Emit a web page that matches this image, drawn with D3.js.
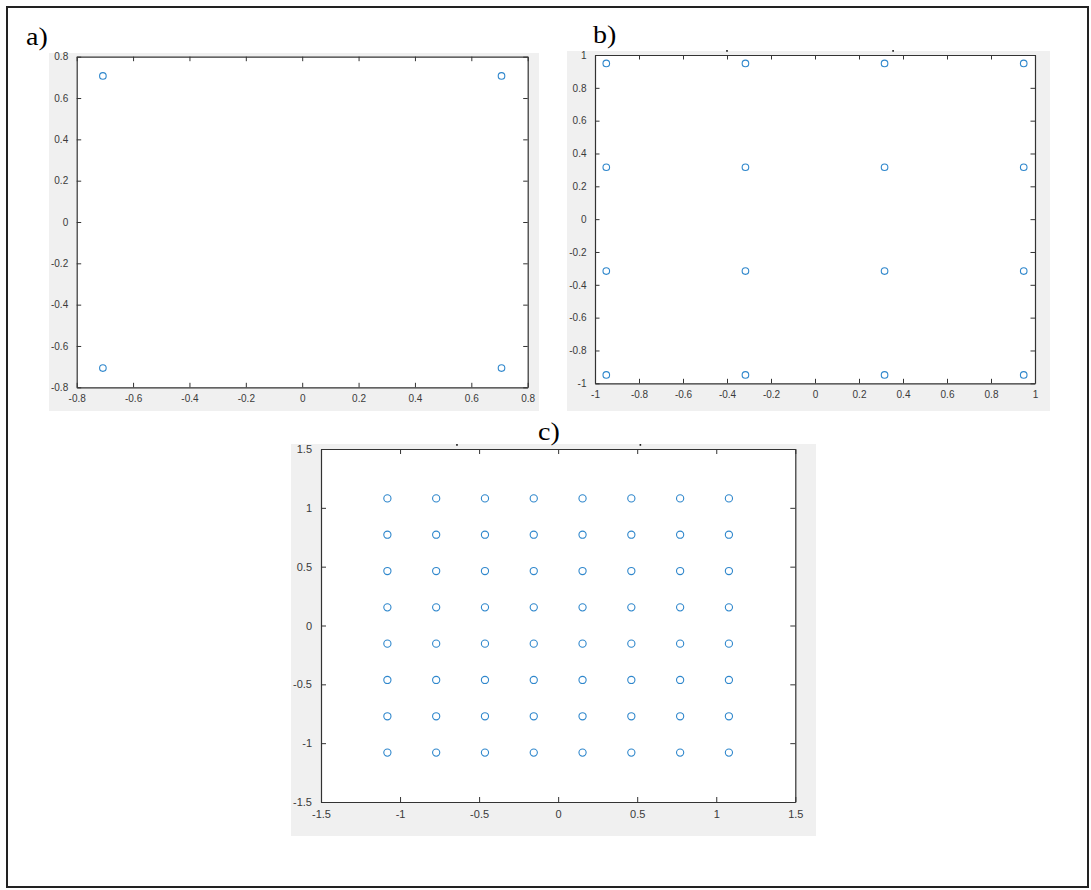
<!DOCTYPE html>
<html>
<head>
<meta charset="utf-8">
<script src="https://cdn.jsdelivr.net/npm/d3@7"></script>
<style>
  html, body { margin: 0; padding: 0; background: #fff; }
  svg { display: block; }
</style>
</head>
<body>
<svg id="fig" width="1091" height="890"></svg>
<script>
// Constellation points (normalized QAM levels)
const qpskLevels = [-0.7071, 0.7071];
const qam16Levels = [-0.9487, -0.3162, 0.3162, 0.9487];
const qam64Levels = [-1.0801, -0.7715, -0.4629, -0.1543, 0.1543, 0.4629, 0.7715, 1.0801];

// Axis limits and tick values per panel
const domainA = [-0.8, 0.8];
const ticksA = [-0.8, -0.6, -0.4, -0.2, 0, 0.2, 0.4, 0.6, 0.8];
const domainB = [-1, 1];
const ticksB = [-1, -0.8, -0.6, -0.4, -0.2, 0, 0.2, 0.4, 0.6, 0.8, 1];
const domainC = [-1.5, 1.5];
const ticksC = [-1.5, -1, -0.5, 0, 0.5, 1, 1.5];

const panelLabels = ["a)", "b)", "c)"];

const svg = d3.select("#fig");

// Outer frame
svg.append("rect")
  .attr("x", 7).attr("y", 7)
  .attr("width", 1081).attr("height", 880)
  .attr("fill", "none")
  .attr("stroke", "#222")
  .attr("stroke-width", 2);

const axisColor = "#333";
const markerColor = "#2f87cc";

function grid(levels) {
  const pts = [];
  levels.forEach(i => levels.forEach(q => pts.push([i, q])));
  return pts;
}

function fmt(v) {
  if (v === 0) return "0";
  return String(+v.toFixed(2));
}

function panel(cfg) {
  const g = svg.append("g");
  // figure background
  g.append("rect")
    .attr("x", cfg.bg[0]).attr("y", cfg.bg[1])
    .attr("width", cfg.bg[2] - cfg.bg[0]).attr("height", cfg.bg[3] - cfg.bg[1])
    .attr("fill", "#f0f0f0");
  const [x0, y0, x1, y1] = cfg.box;
  g.append("rect")
    .attr("x", x0).attr("y", y0)
    .attr("width", x1 - x0).attr("height", y1 - y0)
    .attr("fill", "#fff");

  const x = d3.scaleLinear().domain(cfg.domain).range([x0, x1]);
  const y = d3.scaleLinear().domain(cfg.domain).range([y1, y0]);
  const tl = cfg.tickLen;

  const fontSize = cfg.fontSize;
  const tf = d => fmt(d);

  // bottom and left axes carry labels; top and right mirror the ticks
  const bottom = g.append("g").attr("transform", `translate(0,${y1})`)
    .call(d3.axisBottom(x).tickValues(cfg.ticks).tickFormat(tf).tickSizeInner(-tl).tickSizeOuter(0).tickPadding(tl + 3));
  const left = g.append("g").attr("transform", `translate(${x0},0)`)
    .call(d3.axisLeft(y).tickValues(cfg.ticks).tickFormat(tf).tickSizeInner(-tl).tickSizeOuter(0).tickPadding(tl + 4));
  const top = g.append("g").attr("transform", `translate(0,${y0})`)
    .call(d3.axisTop(x).tickValues(cfg.ticks).tickFormat("").tickSizeInner(-tl).tickSizeOuter(0));
  const right = g.append("g").attr("transform", `translate(${x1},0)`)
    .call(d3.axisRight(y).tickValues(cfg.ticks).tickFormat("").tickSizeInner(-tl).tickSizeOuter(0));

  [bottom, left, top, right].forEach(a => {
    a.select(".domain").attr("stroke", axisColor).attr("stroke-width", 1.2);
    a.selectAll(".tick line").attr("stroke", axisColor).attr("stroke-width", 1);
    a.selectAll(".tick text")
      .attr("fill", "#3a3a3a")
      .attr("font-family", "'Liberation Sans', Arial, sans-serif")
      .attr("font-size", fontSize);
  });

  g.selectAll("circle.pt")
    .data(grid(cfg.levels))
    .join("circle")
    .attr("class", "pt")
    .attr("cx", d => x(d[0]))
    .attr("cy", d => y(d[1]))
    .attr("r", cfg.r)
    .attr("fill", "none")
    .attr("stroke", markerColor)
    .attr("stroke-width", 1.1);

  // small remnants of a clipped title just above the plot box
  (cfg.specks || []).forEach(v => {
    svg.append("rect")
      .attr("x", x(v) - 0.8).attr("y", y0 - 5)
      .attr("width", 1.6).attr("height", 1.8)
      .attr("fill", "#222");
  });

  svg.append("text")
    .attr("transform", `translate(${cfg.label[0]},${cfg.label[1]}) scale(1.12,1)`)
    .attr("font-family", "'Liberation Serif', 'Times New Roman', serif")
    .attr("font-size", 25)
    .attr("fill", "#000")
    .text(cfg.labelText);
}

panel({
  bg: [49, 53, 539, 411],
  box: [76.7, 56.7, 527.7, 387.3],
  domain: domainA, ticks: ticksA, levels: qpskLevels,
  tickLen: 4.5, fontSize: 10, r: 3.3,
  label: [26, 45], labelText: panelLabels[0]
});

panel({
  bg: [567, 51, 1050, 411],
  box: [595, 55, 1035, 383.3],
  domain: domainB, ticks: ticksB, levels: qam16Levels,
  tickLen: 4.5, fontSize: 10, r: 3.3,
  specks: [-0.4, 0.355],
  label: [593, 43], labelText: panelLabels[1]
});

panel({
  bg: [291, 444, 816, 836],
  box: [321, 449, 795.3, 802],
  domain: domainC, ticks: ticksC, levels: qam64Levels,
  tickLen: 5, fontSize: 11, r: 3.6,
  specks: [-0.64, 0.52],
  label: [538, 440], labelText: panelLabels[2]
});
</script>
</body>
</html>
